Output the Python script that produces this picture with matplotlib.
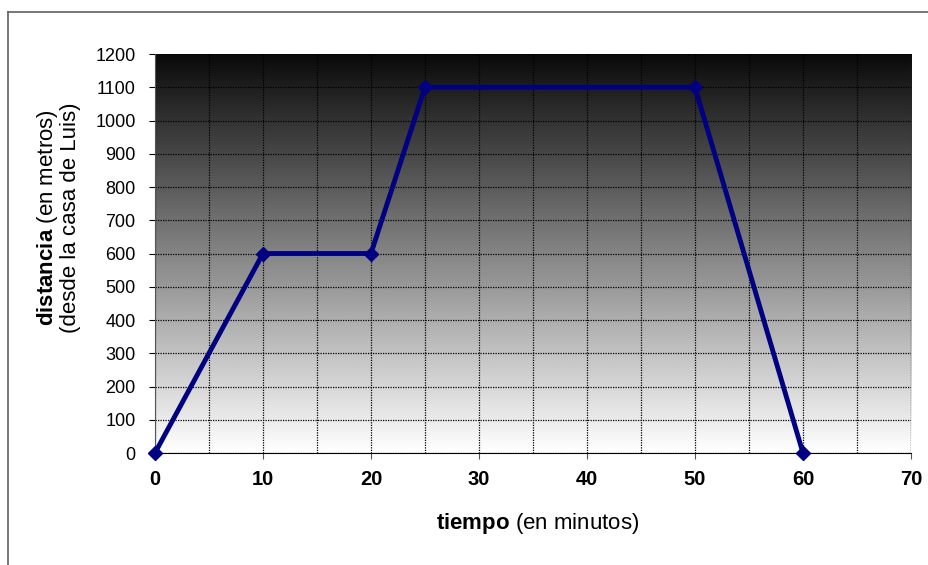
import numpy as np
import matplotlib
matplotlib.use('Agg')
import matplotlib.pyplot as plt
from matplotlib.lines import Line2D

plt.rcParams['font.family'] = ['Liberation Sans', 'DejaVu Sans']
plt.rcParams['mathtext.fontset'] = 'custom'
plt.rcParams['mathtext.rm'] = 'Liberation Sans'
plt.rcParams['mathtext.bf'] = 'Liberation Sans:bold'

tiempo = [0, 10, 20, 25, 50, 60]
distancia = [0, 600, 600, 1100, 1100, 0]
x_ticks = [0, 10, 20, 30, 40, 50, 60, 70]
y_ticks = list(range(0, 1300, 100))

fig = plt.figure(figsize=(9.29, 5.65), dpi=100)
ax = fig.add_axes([0.1668, 0.1982, 0.8138, 0.7062])

# gradient background, black on top to white at bottom
grad = np.linspace(0, 1, 256).reshape(-1, 1)
ax.imshow(grad, extent=[0, 70, 1200, 0], aspect='auto', cmap='gray_r',
          vmin=0, vmax=1.04, zorder=0)
ax.set_xlim(0, 70)
ax.set_ylim(0, 1200)

ax.set_xticks(x_ticks)
ax.set_yticks(y_ticks)
ax.grid(True, color='black', linestyle=(0, (1, 1)), linewidth=0.9, zorder=1)
for xv in range(5, 70, 10):
    ax.axvline(xv, color='black', linestyle=(0, (1, 1)), linewidth=0.9, zorder=1)
ax.axvline(70, color='#555555', linestyle=(0, (1, 1)), linewidth=0.9, zorder=1)

ax.plot(tiempo, distancia, color='#000080', linewidth=3.5, marker='D',
        markersize=7, zorder=3, clip_on=False)

ax.set_xticklabels([str(v) for v in x_ticks], fontsize=14.5, fontweight='bold')
ax.set_yticklabels([str(v) for v in y_ticks], fontsize=13)
ax.tick_params(axis='x', direction='out', length=4, pad=8, color='#555555')
ax.tick_params(axis='y', direction='out', length=4, pad=10, color='black')

for s in ['top', 'right']:
    ax.spines[s].set_visible(False)
ax.spines['left'].set_color('#555555')
ax.spines['bottom'].set_color('black')
ax.spines['bottom'].set_zorder(2)

fig.text(538 / 929, 1 - 523 / 565, r'$\bf{tiempo}$ (en minutos)', fontsize=16,
         ha='center', va='center')
fig.text(58.5 / 929, 1 - 218 / 565,
         '$\\bf{distancia}$ (en metros)\n(desde la casa de Luis)',
         fontsize=16, rotation=90, ha='center', va='center',
         multialignment='center', linespacing=1.0)

# outer frame
fig.add_artist(Line2D([8 / 929, 1], [1 - 12 / 565, 1 - 12 / 565],
                      transform=fig.transFigure, color='#606060', linewidth=1.2))
fig.add_artist(Line2D([8 / 929, 8 / 929], [0, 1 - 12 / 565],
                      transform=fig.transFigure, color='#606060', linewidth=1.2))

fig.savefig('out.png', dpi=100)
